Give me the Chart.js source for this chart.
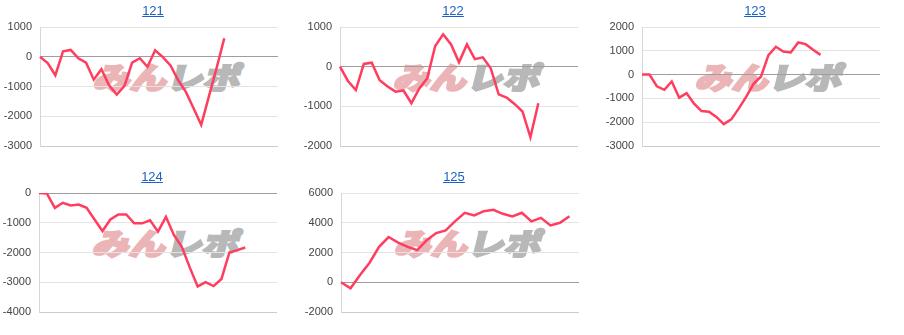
<!DOCTYPE html>
<html lang="ja">
<head>
<meta charset="UTF-8">
<title>収支グラフ</title>
<script src="https://cdn.jsdelivr.net/npm/chart.js"></script>
<style>
  body { margin: 0; background: #fff; width: 904px; height: 335px; overflow: hidden; position: relative; font-family: Arial, "Liberation Sans", sans-serif; }
  .panel { position: absolute; width: 306px; height: 165px; }
  .panel .ttl { position: absolute; left: 0; top: 3px; width: 306px; text-align: center; font-size: 13px; line-height: 16px; }
  .panel .ttl a { color: #1a62c7; text-decoration: underline; }
  .panel .wm { position: absolute; left: 96px; top: 58px; font-family: "Noto Sans CJK JP", sans-serif; font-weight: 900; font-size: 30px; line-height: 36px; white-space: nowrap; transform-origin: left center; transform: skewX(-14deg) scaleX(1.22); }
  .wm .a { color: #ebb5b7; -webkit-text-stroke: 2.2px #ebb5b7; }
  .wm .b { color: #b8b8b8; -webkit-text-stroke: 2.2px #b8b8b8; }
  .panel canvas { position: absolute; left: 0; top: 0; }
</style>
</head>
<body>
<div class="panel" style="left:0;top:0"><div class="wm"><span class="a">みん</span><span class="b">レポ</span></div><canvas id="c121" width="300" height="165"></canvas><div class="ttl"><a href="#">121</a></div></div>
<div class="panel" style="left:300px;top:0"><div class="wm"><span class="a">みん</span><span class="b">レポ</span></div><canvas id="c122" width="300" height="165"></canvas><div class="ttl"><a href="#">122</a></div></div>
<div class="panel" style="left:602px;top:0"><div class="wm"><span class="a">みん</span><span class="b">レポ</span></div><canvas id="c123" width="300" height="165"></canvas><div class="ttl"><a href="#">123</a></div></div>
<div class="panel" style="left:-1px;top:166px"><div class="wm"><span class="a">みん</span><span class="b">レポ</span></div><canvas id="c124" width="300" height="165"></canvas><div class="ttl"><a href="#">124</a></div></div>
<div class="panel" style="left:301px;top:166px"><div class="wm"><span class="a">みん</span><span class="b">レポ</span></div><canvas id="c125" width="300" height="165"></canvas><div class="ttl"><a href="#">125</a></div></div>

<script>
// 日付（横軸カテゴリ、表示なし）
const days121 = ['0','1','2','3','4','5','6','7','8','9','10','11','12','13','14','15','16','17','18','19','20','21','22','23','24','25','26','27','28','29','30','31'];
const days122 = ['0','1','2','3','4','5','6','7','8','9','10','11','12','13','14','15','16','17','18','19','20','21','22','23','24','25','26','27','28','29','30'];
const days123 = ['0','1','2','3','4','5','6','7','8','9','10','11','12','13','14','15','16','17','18','19','20','21','22','23','24','25','26','27','28','29','30','31','32'];
const days124 = ['0','1','2','3','4','5','6','7','8','9','10','11','12','13','14','15','16','17','18','19','20','21','22','23','24','25','26','27','28','29','30'];
const days125 = ['0','1','2','3','4','5','6','7','8','9','10','11','12','13','14','15','16','17','18','19','20','21','22','23','24','25'];

// 収支
const pl121 = [0, -210, -620, 180, 230, -50, -200, -770, -420, -960, -1270, -980, -200, -50, -340, 220, -10, -290, -790, -1180, -1730, -2290, -1330, -380, 620];
const pl122 = [0, -360, -590, 70, 100, -340, -500, -630, -600, -920, -550, -290, 520, 815, 560, 110, 560, 190, 235, -40, -700, -780, -940, -1130, -1780, -920];
const pl123 = [0, 0, -490, -640, -290, -970, -780, -1220, -1530, -1560, -1780, -2080, -1880, -1430, -940, -390, -80, 820, 1170, 970, 930, 1350, 1280, 1040, 830];
const pl124 = [0, -20, -500, -330, -420, -390, -500, -890, -1280, -890, -720, -720, -1020, -1020, -920, -1300, -800, -1410, -1810, -2500, -3140, -3000, -3130, -2890, -2000, -1920, -1830];
const pl125 = [0, -400, 490, 1310, 2380, 3040, 2670, 2380, 2160, 2820, 3310, 3490, 4110, 4670, 4490, 4780, 4870, 4600, 4420, 4670, 4090, 4330, 3820, 4000, 4440];

// 縦軸の範囲 [min, max, step]
const range121 = [-3000, 1000, 1000];
const range122 = [-2000, 1000, 1000];
const range123 = [-3000, 2000, 1000];
const range124 = [-4000, 0, 1000];
const range125 = [-2000, 6000, 2000];

function drawGraph(id, labels, values, range) {
    const ctx = document.getElementById(id).getContext('2d');
    return new Chart(ctx, {
        type: 'line',
        data: {
            labels: labels,
            datasets: [{
                data: values,
                borderColor: '#ff3d5e',
                borderWidth: 2.5,
                pointRadius: 0,
                tension: 0,
                fill: false
            }]
        },
        options: {
            responsive: false,
            animation: false,
            layout: { padding: { left: 0, right: 22, top: 27, bottom: 19 } },
            plugins: { legend: { display: false }, tooltip: { enabled: false } },
            scales: {
                x: { type: 'category', display: false, offset: false },
                y: {
                    min: range[0],
                    max: range[1],
                    afterFit: function(scale) { scale.width = 40; },
                    border: { display: true, color: '#d6d6d6' },
                    grid: {
                        drawTicks: false,
                        color: function(c) {
                            if (c.tick.value === 0) return '#9e9e9e';
                            if (c.tick.value === range[0]) return '#cccccc';
                            return '#e3e3e3';
                        }
                    },
                    ticks: {
                        stepSize: range[2],
                        padding: 8,
                        color: '#444',
                        font: { family: 'Arial, "Liberation Sans"', size: 11 },
                        callback: function(v) { return String(v); }
                    }
                }
            }
        }
    });
}

drawGraph('c121', days121, pl121, range121);
drawGraph('c122', days122, pl122, range122);
drawGraph('c123', days123, pl123, range123);
drawGraph('c124', days124, pl124, range124);
drawGraph('c125', days125, pl125, range125);
</script>
</body>
</html>
